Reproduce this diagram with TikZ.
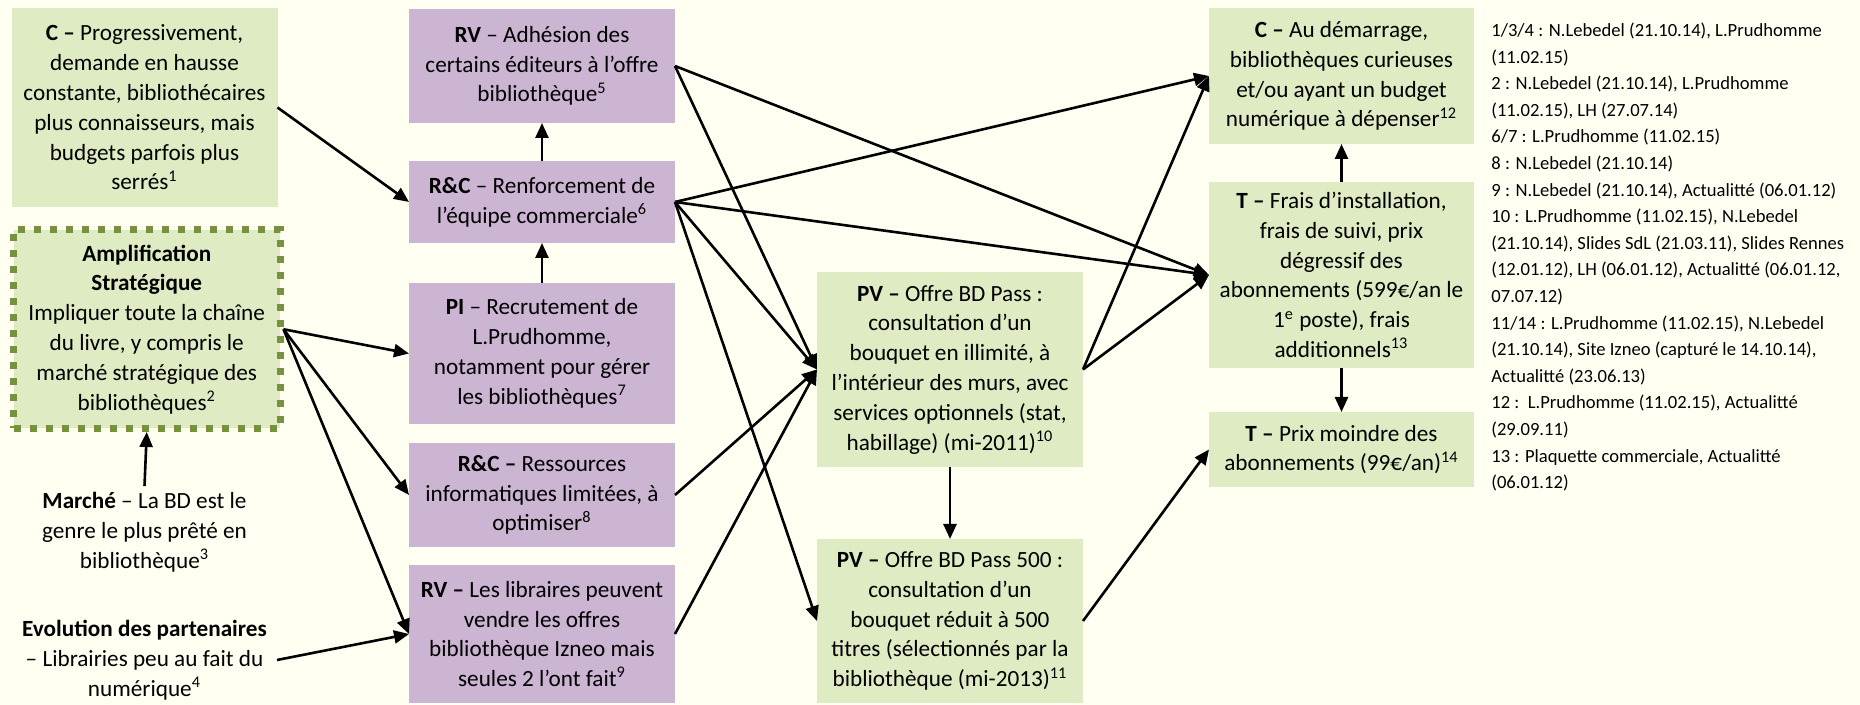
\documentclass[tikz,border=0pt]{standalone}
\usepackage{fontspec}
\setmainfont{Carlito}
\usetikzlibrary{arrows.meta}
\definecolor{bgcol}{HTML}{FFFFF2}
\definecolor{boxgreen}{HTML}{DFEBC3}
\definecolor{boxpurple}{HTML}{CCB4D3}
\definecolor{olive}{HTML}{76923C}
\begin{document}
\begin{tikzpicture}[x=0.5pt,y=-0.5pt,
  txt/.style={align=center,font=\fontsize{11.6}{14.9}\selectfont,inner sep=0pt,outer sep=0pt},
  gbox/.style={txt,fill=boxgreen,minimum width=133pt},
  pbox/.style={txt,fill=boxpurple,minimum width=133pt},
  ampbox/.style={txt,fill=boxgreen,draw=olive,line width=3.5pt,dash pattern=on 3.5pt off 4.5pt,minimum width=133.25pt,outer sep=1.75pt},
  arr/.style={line width=1.3pt,-{Triangle[length=7.5pt,width=6.5pt]}},
  notes/.style={align=left,font=\fontsize{9.3}{13.3}\selectfont,inner sep=0pt,anchor=north west}]
\useasboundingbox (0,0) rectangle (1860,705);
\fill[bgcol] (0,0) rectangle (1860,705);

% left column
\node[gbox,minimum height=99.5pt] (cL) at (144.5,107.5) {\textbf{C –} Progressivement,\\demande en hausse\\constante, bibliothécaires\\plus connaisseurs, mais\\budgets parfois plus\\serrés\textsuperscript{1}};
\node[ampbox,minimum height=99.25pt] (amp) at (146.75,329.25) {\textbf{Amplification}\\\textbf{Stratégique}\\Impliquer toute la chaîne\\du livre, y compris le\\marché stratégique des\\bibliothèques\textsuperscript{2}};
\node[txt,minimum width=132.5pt,inner sep=3pt] (marche) at (144.5,532) {\textbf{Marché} – La BD est le\\genre le plus prêté en\\bibliothèque\textsuperscript{3}};
\node[txt,minimum width=132.5pt] (evol) at (144.5,660) {\textbf{Evolution des partenaires}\\– Librairies peu au fait du\\numérique\textsuperscript{4}};

% second column
\node[pbox,minimum height=57pt] (rv1) at (542,66) {\textbf{RV} – Adhésion des\\certains éditeurs à l’offre\\bibliothèque\textsuperscript{5}};
\node[pbox,minimum height=41pt] (rc1) at (542,202) {\textbf{R\&C} – Renforcement de\\l’équipe commerciale\textsuperscript{6}};
\node[pbox,minimum height=70.5pt] (pi) at (542,353.5) {\textbf{PI} – Recrutement de\\L.Prudhomme,\\notamment pour gérer\\les bibliothèques\textsuperscript{7}};
\node[pbox,minimum height=52pt] (rc2) at (542,495) {\textbf{R\&C –} Ressources\\informatiques limitées, à\\optimiser\textsuperscript{8}};
\node[pbox,minimum height=69pt] (rv2) at (542,634) {\textbf{RV –} Les libraires peuvent\\vendre les offres\\bibliothèque Izneo mais\\seules 2 l’ont fait\textsuperscript{9}};

% third column
\node[gbox,minimum height=97.5pt] (pv1) at (950,369.5) {\textbf{PV –} Offre BD Pass :\\consultation d’un\\bouquet en illimité, à\\l’intérieur des murs, avec\\services optionnels (stat,\\habillage) (mi-2011)\textsuperscript{10}};
\node[gbox,minimum height=82pt] (pv2) at (950,621) {\textbf{PV –} Offre BD Pass 500 :\\consultation d’un\\bouquet réduit à 500\\titres (sélectionnés par la\\bibliothèque (mi-2013)\textsuperscript{11}};

% fourth column
\node[gbox,minimum height=68pt,minimum width=132.5pt] (cR) at (1341.5,76) {\textbf{C –} Au démarrage,\\bibliothèques curieuses\\et/ou ayant un budget\\numérique à dépenser\textsuperscript{12}};
\node[gbox,minimum height=93pt,minimum width=132.5pt] (t1) at (1341.5,275) {\textbf{T –} Frais d’installation,\\frais de suivi, prix\\dégressif des\\abonnements (599€/an le\\1\textsuperscript{e} poste), frais\\additionnels\textsuperscript{13}};
\node[gbox,minimum height=37.5pt,minimum width=132.5pt] (t2) at (1341.5,449.5) {\textbf{T –} Prix moindre des\\abonnements (99€/an)\textsuperscript{14}};

% notes
\node[notes] (refs) at (1491,22.5) {1/3/4 : N.Lebedel (21.10.14), L.Prudhomme\\(11.02.15)\\2 : N.Lebedel (21.10.14), L.Prudhomme\\(11.02.15), LH (27.07.14)\\6/7 : L.Prudhomme (11.02.15)\\8 : N.Lebedel (21.10.14)\\9 : N.Lebedel (21.10.14), Actualitté (06.01.12)\\10 : L.Prudhomme (11.02.15), N.Lebedel\\(21.10.14), Slides SdL (21.03.11), Slides Rennes\\(12.01.12), LH (06.01.12), Actualitté (06.01.12,\\07.07.12)\\11/14 : L.Prudhomme (11.02.15), N.Lebedel\\(21.10.14), Site Izneo (capturé le 14.10.14),\\Actualitté (23.06.13)\\12 :\ \ L.Prudhomme (11.02.15), Actualitté\\(29.09.11)\\13 : Plaquette commerciale, Actualitté\\(06.01.12)};

% connectors
\draw[arr] (cL.east) -- (rc1.west);
\draw[arr] (amp.east) -- (pi.west);
\draw[arr] (amp.east) -- (rc2.west);
\draw[arr] (amp.east) -- (rv2.west);
\draw[arr] (marche.north) -- (amp.south);
\draw[arr] (evol.east) -- (rv2.west);

\draw[arr] (rc1.north) -- (rv1.south);
\draw[arr] (pi.north) -- (rc1.south);
\draw[arr] (rv1.east) -- (pv1.west);
\draw[arr] (rv1.east) -- (t1.west);
\draw[arr] (rc1.east) -- (cR.west);
\draw[arr] (rc1.east) -- (t1.west);
\draw[arr] (rc1.east) -- (pv1.west);
\draw[arr] (rc1.east) -- (pv2.west);
\draw[arr] (rc2.east) -- (pv1.west);
\draw[arr] (rv2.east) -- (pv1.west);

\draw[arr] (pv1.south) -- (pv2.north);
\draw[arr] (pv1.east) -- (cR.west);
\draw[arr] (pv1.east) -- (t1.west);
\draw[arr] (pv2.east) -- (t2.west);

\draw[arr] (t1.north) -- (cR.south);
\draw[arr] (t1.south) -- (t2.north);
\end{tikzpicture}
\end{document}
